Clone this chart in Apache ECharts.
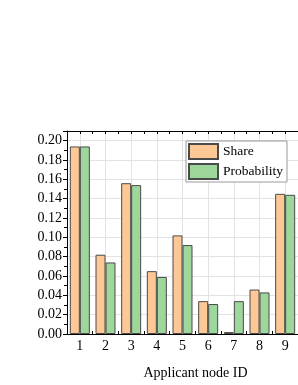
<!DOCTYPE html>
<html><head><meta charset="utf-8">
<script src="https://cdn.jsdelivr.net/npm/echarts@6/dist/echarts.min.js"></script>
<style>html,body{margin:0;padding:0;background:#fff}#c{width:298px;height:385px}</style>
</head><body><div id="c"></div>
<script>
var categories = ['1','2','3','4','5','6','7','8','9'];
var shareValues = [0.194, 0.082, 0.156, 0.065, 0.102, 0.034, 0.002, 0.046, 0.145];
var probabilityValues = [0.194, 0.074, 0.154, 0.059, 0.092, 0.031, 0.034, 0.043, 0.144];
var yTicks = { min: 0, max: 0.21, interval: 0.02 };
var xName = 'Applicant node ID';
var seriesNames = ['Share', 'Probability'];

// half-step positions for the top frame axis (boundaries and centres)
var halfSteps = [''];
categories.forEach(function(){ halfSteps.push(''); halfSteps.push(''); });

var font = 'Liberation Serif';
var chart = echarts.init(document.getElementById('c'), null, {renderer: 'canvas'});
chart.setOption({
  animation: false,
  backgroundColor: '#fff',
  textStyle: { fontFamily: font, color: '#000' },
  grid: { left: 67, top: 131, right: 0, bottom: 48, containLabel: false },
  legend: {
    orient: 'vertical', left: 186, top: 141,
    itemWidth: 29, itemHeight: 15, itemGap: 3,
    padding: [2, 4, 2, 2],
    borderColor: '#999', borderWidth: 1, backgroundColor: '#fff',
    textStyle: { fontFamily: font, fontSize: 13.5, color: '#000' },
    icon: 'rect',
    data: seriesNames
  },
  xAxis: [{
    type: 'category', data: categories, position: 'bottom',
    name: xName, nameLocation: 'middle', nameGap: 32,
    nameTextStyle: { fontFamily: font, fontSize: 14, color: '#000', padding: [0,0,0,26] },
    axisLine: { show: true, lineStyle: { color: '#000', width: 1 } },
    axisTick: { show: true, inside: true, length: 3, lineStyle: { color: '#000' } },
    axisLabel: { fontFamily: font, fontSize: 14, color: '#000', margin: 5 },
    splitLine: { show: false }
  }, {
    type: 'category', data: halfSteps, position: 'top', boundaryGap: false,
    axisLine: { show: true, lineStyle: { color: '#000', width: 1 } },
    axisTick: { show: true, inside: true, length: 3, interval: 0, lineStyle: { color: '#000' } },
    axisLabel: { show: false },
    splitLine: { show: true, interval: function(i){ return i % 2 === 1; }, lineStyle: { color: '#e3e3e3', width: 1 } }
  }],
  yAxis: {
    type: 'value', min: yTicks.min, max: yTicks.max, interval: yTicks.interval,
    axisLine: { show: true, lineStyle: { color: '#000', width: 1 } },
    axisTick: { show: true, inside: false, length: 4, lineStyle: { color: '#000' } },
    minorTick: { show: true, splitNumber: 2, length: 3, lineStyle: { color: '#000' } },
    axisLabel: { fontFamily: font, fontSize: 14, color: '#000', margin: 5, showMaxLabel: false,
      formatter: function(v){ return v.toFixed(2); } },
    splitLine: { show: true, lineStyle: { color: '#e3e3e3', width: 1 } }
  },
  series: [{
    name: seriesNames[0], type: 'bar', data: shareValues, xAxisIndex: 0,
    barWidth: 10, barGap: '0%',
    itemStyle: { color: '#FDC896', borderColor: '#4a4a4a', borderWidth: 1 }
  }, {
    name: seriesNames[1], type: 'bar', data: probabilityValues, xAxisIndex: 0,
    barWidth: 10, barGap: '0%',
    itemStyle: { color: '#9ED79B', borderColor: '#4a4a4a', borderWidth: 1 }
  }]
});
</script></body></html>
